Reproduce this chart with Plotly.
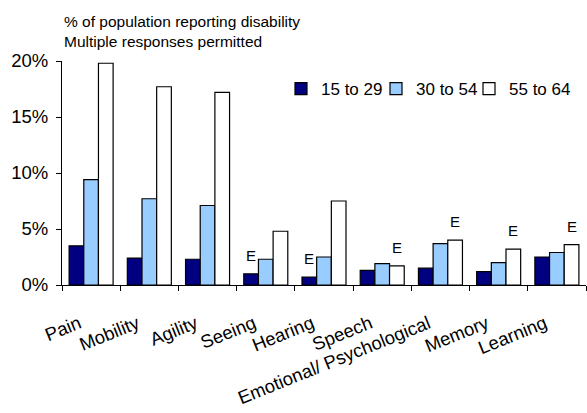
import plotly.graph_objects as go

categories = ["Pain", "Mobility", "Agility", "Seeing", "Hearing", "Speech",
              "Emotional/ Psychological", "Memory", "Learning"]
series_names = ["15 to 29", "30 to 54", "55 to 64"]
age_15_29 = [3.5, 2.4, 2.3, 1.0, 0.7, 1.3, 1.5, 1.2, 2.5]
age_30_54 = [9.4, 7.7, 7.1, 2.3, 2.5, 1.9, 3.7, 2.0, 2.9]
age_55_64 = [19.8, 17.7, 17.2, 4.8, 7.5, 1.7, 4.0, 3.2, 3.6]
e_15_29 = [0, 0, 0, 1, 1, 0, 0, 0, 0]
e_30_54 = [0, 0, 0, 0, 0, 0, 0, 0, 0]
e_55_64 = [0, 0, 0, 0, 0, 1, 1, 1, 1]
y_ticks = [0, 5, 10, 15, 20]
y_tick_labels = ["0%", "5%", "10%", "15%", "20%"]
title_lines = ["% of population reporting disability", "Multiple responses permitted"]

colors = ["#000080", "#99CCFF", "#FFFFFF"]
FONT = "Arial, Liberation Sans, sans-serif"

W, H = 587, 413
ML, MR, MT, MB = 62, 1, 61, 128
plot_w = W - ML - MR
plot_h = H - MT - MB
bargap = 0.244
bar_px = plot_w / len(categories) * (1 - bargap) / 3

legend_ids = ["legend", "legend2", "legend3"]
legend_left_px = [281, 376, 469]

fig = go.Figure()
values = [age_15_29, age_30_54, age_55_64]
flags = [e_15_29, e_30_54, e_55_64]
for name, vals, col, lid in zip(series_names, values, colors, legend_ids):
    fig.add_trace(go.Bar(
        x=categories, y=vals, name=name, legend=lid,
        marker=dict(color=col, line=dict(color="#000000", width=1.2)),
    ))

annotations = []
for si, (vals, fl) in enumerate(zip(values, flags)):
    for c, v, f in zip(categories, vals, fl):
        if f:
            annotations.append(dict(
                x=c, y=v, xref="x", yref="y", text="E", showarrow=False,
                xanchor="center", yanchor="bottom", yshift=8,
                xshift=(si - 1) * bar_px,
                font=dict(family=FONT, size=15, color="#000000")))

for line, py in zip(title_lines, [21.5, 41.5]):
    annotations.append(dict(
        x=0, y=(H - MB - py) / plot_h, xref="paper", yref="paper",
        xanchor="left", yanchor="middle", text=line, showarrow=False,
        font=dict(family=FONT, size=15.5, color="#000000")))

legend_style = dict(orientation="h", xanchor="left", y=(H - MB - 89) / plot_h,
                    yanchor="middle", font=dict(family=FONT, size=17, color="#000000"),
                    bgcolor="rgba(0,0,0,0)", itemwidth=30, borderwidth=0)

layout_legends = {}
for lid, lx in zip(legend_ids, legend_left_px):
    layout_legends[lid] = dict(legend_style, x=(lx - ML) / plot_w)

fig.update_layout(
    template="none",
    width=W, height=H,
    margin=dict(l=ML, r=MR, t=MT, b=MB, pad=0, autoexpand=False),
    paper_bgcolor="white", plot_bgcolor="white",
    barmode="group", bargap=bargap, bargroupgap=0,
    font=dict(family=FONT, size=18, color="#000000"),
    showlegend=True,
    annotations=annotations,
    xaxis=dict(showline=True, linecolor="#000000", linewidth=1, automargin=False,
               ticks="outside", tickson="boundaries", ticklen=5, tickcolor="#000000",
               tickangle=-22, showgrid=False, zeroline=False,
               ticklabelstandoff=20, ticklabelshift=-12,
               tickfont=dict(family=FONT, size=18.5, color="#000000")),
    yaxis=dict(range=[0, 20], tickvals=y_ticks, ticktext=y_tick_labels,
               showline=True, linecolor="#000000", linewidth=1, automargin=False,
               ticks="outside", ticklen=5, tickcolor="#000000",
               showgrid=False, zeroline=False, ticklabelstandoff=4,
               tickfont=dict(family=FONT, size=18.5, color="#000000")),
    **layout_legends,
)

fig.write_html("out.html", config={"displayModeBar": False},
               post_script="document.body.style.margin='0';")
